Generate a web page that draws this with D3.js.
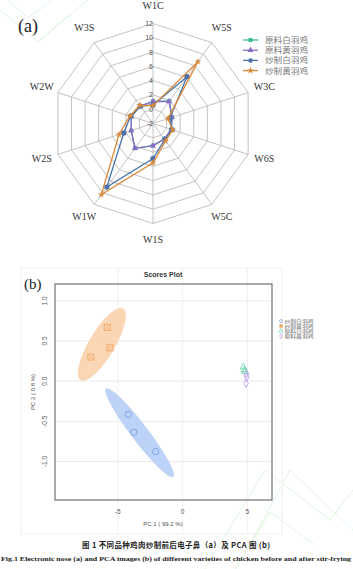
<!DOCTYPE html>
<html>
<head>
<meta charset="utf-8">
<script src="https://cdn.jsdelivr.net/npm/d3@7"></script>
<style>
  body { margin: 0; background: #fff; }
  svg { display: block; }
</style>
</head>
<body>
<svg id="chart" width="353" height="569"></svg>
<script>
// radar (a): electronic nose sensors
var sensors = ["W1C", "W5S", "W3C", "W6S", "W5C", "W1S", "W1W", "W2S", "W2W", "W3S"];
var radarTicks = [-2, 0, 2, 4, 6, 8, 10, 12];
var radarNames = ["原料白羽鸡", "原料黄羽鸡", "炒制白羽鸡", "炒制黄羽鸡"];
var rawWhite   = [1.1, 1.9, 0.8, 0.7, 0.7, 1.1, 2.3, 1.2, 1.2, 1.0];
var rawYellow  = [1.1, 1.8, 0.8, 0.7, 0.7, 1.1, 2.3, 1.2, 1.2, 1.0];
var friedWhite = [0.6, 6.1, 0.5, 0.8, 0.8, 2.9, 9.0, 2.3, 1.3, 1.0];
var friedYellow= [0.5, 8.7, 0.2, 0.9, 1.0, 3.5, 10.3, 3.0, 1.4, 1.15];

// PCA (b)
var pcaNames = ["炒制白羽鸡", "炒制黄羽鸡", "原料白羽鸡", "原料黄羽鸡"];
var pcaFriedWhite  = [[-4.2, -0.415], [-3.76, -0.636], [-2.08, -0.877]];
var pcaFriedYellow = [[-5.82, 0.67], [-5.61, 0.415], [-7.08, 0.30]];
var pcaRawWhite    = [[4.69, 0.175], [4.77, 0.14], [4.81, 0.12]];
var pcaRawYellow   = [[4.92, 0.09], [4.95, 0.05], [4.9, -0.03]];
// confidence ellipses: center, major semi-vector, minor semi-vector (data units)
var ellFriedWhite  = [-3.32, -0.642, 2.6, -0.551, 0.522, 0.064];
var ellFriedYellow = [-6.23, 0.459, 1.64, 0.447, 0.856, -0.082];
var pcaXTicks = [-5, 0, 5];
var pcaYTicks = [-1.0, -0.5, 0.0, 0.5, 1.0];

var svg = d3.select("#chart");

// faint watermark lines
var wm = svg.append("g").attr("fill", "none").attr("stroke", "#d6f4d6").attr("stroke-width", 0.8);
wm.append("path").attr("d", "M8,0 L28,18 L52,0 M0,10 L38,42 L88,0 M40,40 L70,14");
wm.append("path").attr("d", "M205,569 L265,470 L330,520 L353,490 M235,569 L270,512 L315,545 M250,545 L290,470 L353,530");

// ---------- panel (a) ----------
var cx = 153, cy = 123.5;
var r = d3.scaleLinear().domain([-2, 12]).range([0, 100]);
var ang = function(i) { return i * 2 * Math.PI / sensors.length; };
function pt(i, v) {
  return [cx + r(v) * Math.sin(ang(i)), cy - r(v) * Math.cos(ang(i))];
}

var grid = svg.append("g");
radarTicks.slice(1).forEach(function(t) {
  grid.append("path")
      .attr("d", d3.line()(sensors.map(function(s, i) { return pt(i, t); })) + "Z")
      .attr("fill", "none").attr("stroke", "#b4b4b4").attr("stroke-width", 0.8);
});
sensors.forEach(function(s, i) {
  var p = pt(i, 12);
  grid.append("line").attr("x1", cx).attr("y1", cy).attr("x2", p[0]).attr("y2", p[1])
      .attr("stroke", "#b4b4b4").attr("stroke-width", 0.8);
  var lr = 117;
  svg.append("text")
      .attr("x", cx + lr * Math.sin(ang(i)))
      .attr("y", cy - lr * Math.cos(ang(i)))
      .attr("text-anchor", "middle").attr("dominant-baseline", "middle")
      .attr("font-family", "Liberation Serif").attr("font-size", 10)
      .attr("fill", "#333").text(s);
});
radarTicks.forEach(function(t) {
  svg.append("text").attr("x", cx).attr("y", cy - r(t) + 2.5)
      .attr("text-anchor", "end")
      .attr("font-family", "Liberation Sans").attr("font-size", 7)
      .attr("fill", "#555").text(t);
});

var radarSeries = [rawWhite, rawYellow, friedWhite, friedYellow];
var radarColors = ["#3db98f", "#8a6cc8", "#4a72a8", "#d8893a"];
var shapes = [d3.symbolSquare, d3.symbolTriangle, d3.symbolCircle, d3.symbolStar];

radarSeries.forEach(function(vals, k) {
  var pts = vals.map(function(v, i) { return pt(i, v); });
  svg.append("path").attr("d", d3.line()(pts) + "Z")
      .attr("fill", "none").attr("stroke", radarColors[k]).attr("stroke-width", 1.3);
  svg.append("g").selectAll("path").data(pts).enter().append("path")
      .attr("d", d3.symbol().type(shapes[k]).size(k == 2 ? 22 : 16))
      .attr("transform", function(d) { return "translate(" + d[0] + "," + d[1] + ")"; })
      .attr("fill", radarColors[k]);
});

var leg = svg.append("g");
radarNames.forEach(function(n, k) {
  var y = 40 + k * 10.2;
  leg.append("line").attr("x1", 243).attr("x2", 258).attr("y1", y).attr("y2", y)
      .attr("stroke", radarColors[k]).attr("stroke-width", 1.3);
  leg.append("path").attr("d", d3.symbol().type(shapes[k]).size(16))
      .attr("transform", "translate(250.5," + y + ")").attr("fill", radarColors[k]);
  leg.append("text").attr("x", 265).attr("y", y + 3)
      .attr("textLength", 43).attr("lengthAdjust", "spacingAndGlyphs")
      .attr("font-family", "Noto Sans CJK SC").attr("font-size", 8)
      .attr("fill", "#777").text(n);
});

svg.append("text").attr("x", 18).attr("y", 32)
    .attr("font-family", "Liberation Serif").attr("font-size", 18)
    .attr("fill", "#222").text("(a)");

// ---------- panel (b) ----------
var x = d3.scaleLinear().domain([-9.85, 6.9]).range([55, 272]);
var y = d3.scaleLinear().domain([-1.48, 1.21]).range([500, 284]);

svg.append("rect").attr("x", 21).attr("y", 268).attr("width", 261).attr("height", 266)
    .attr("fill", "none").attr("stroke", "#efefef");

var g2 = svg.append("g");
pcaXTicks.forEach(function(t) {
  g2.append("line").attr("x1", x(t)).attr("x2", x(t)).attr("y1", 268).attr("y2", 534)
      .attr("stroke", "#ececec").attr("stroke-width", 0.8);
});
pcaYTicks.forEach(function(t) {
  g2.append("line").attr("x1", 55).attr("x2", 272).attr("y1", y(t)).attr("y2", y(t))
      .attr("stroke", "#e4e4e4").attr("stroke-width", 0.8);
});

function ellipse(e) {
  var pts = d3.range(0, 73).map(function(j) {
    var t = j / 72 * 2 * Math.PI;
    return [x(e[0] + Math.cos(t) * e[2] + Math.sin(t) * e[4]),
            y(e[1] + Math.cos(t) * e[3] + Math.sin(t) * e[5])];
  });
  return d3.line()(pts) + "Z";
}
g2.append("path").attr("d", ellipse(ellFriedYellow)).attr("fill", "#fbd2ad").attr("opacity", 0.9);
g2.append("path").attr("d", ellipse(ellFriedWhite)).attr("fill", "#b5cdf5").attr("opacity", 0.9);

var pcaColors = ["#6f9de6", "#f2a45a", "#5fd3a4", "#b58ee8"];

g2.selectAll(".fw").data(pcaFriedWhite).enter().append("circle")
    .attr("cx", function(d) { return x(d[0]); }).attr("cy", function(d) { return y(d[1]); })
    .attr("r", 3.2).attr("fill", "none").attr("stroke", pcaColors[0]).attr("stroke-width", 0.8);

g2.selectAll(".fy").data(pcaFriedYellow).enter().append("g")
    .attr("transform", function(d) { return "translate(" + x(d[0]) + "," + y(d[1]) + ")"; })
    .each(function() {
      var s = d3.select(this);
      s.append("rect").attr("x", -3).attr("y", -3).attr("width", 6).attr("height", 6)
          .attr("fill", "none").attr("stroke", pcaColors[1]).attr("stroke-width", 0.8);
      s.append("path").attr("d", "M-3,-3L3,3M-3,3L3,-3")
          .attr("stroke", pcaColors[1]).attr("stroke-width", 0.6);
    });

g2.selectAll(".rw").data(pcaRawWhite).enter().append("path")
    .attr("d", d3.symbol().type(d3.symbolTriangle).size(18))
    .attr("transform", function(d) { return "translate(" + x(d[0]) + "," + y(d[1]) + ")"; })
    .attr("fill", "none").attr("stroke", pcaColors[2]).attr("stroke-width", 0.8);

g2.selectAll(".ry").data(pcaRawYellow).enter().append("path")
    .attr("d", d3.symbol().type(d3.symbolDiamond).size(18))
    .attr("transform", function(d) { return "translate(" + x(d[0]) + "," + y(d[1]) + ")"; })
    .attr("fill", "none").attr("stroke", pcaColors[3]).attr("stroke-width", 0.8);

g2.append("rect").attr("x", 55).attr("y", 284).attr("width", 217).attr("height", 216)
    .attr("fill", "none").attr("stroke", "#555").attr("stroke-width", 1);

pcaXTicks.forEach(function(t) {
  g2.append("text").attr("x", x(t)).attr("y", 514).attr("text-anchor", "middle")
      .attr("font-family", "Liberation Sans").attr("font-size", 6.5)
      .attr("fill", "#555").text(t);
});
pcaYTicks.forEach(function(t) {
  g2.append("text").attr("transform", "translate(47," + y(t) + ") rotate(-90)")
      .attr("text-anchor", "middle")
      .attr("font-family", "Liberation Sans").attr("font-size", 6.5)
      .attr("fill", "#555").text(t.toFixed(1));
});
g2.append("text").attr("x", 163).attr("y", 526).attr("text-anchor", "middle")
    .attr("font-family", "Liberation Sans").attr("font-size", 6)
    .attr("fill", "#555").text("PC 1 ( 99.2 %)");
g2.append("text").attr("transform", "translate(35,392) rotate(-90)").attr("text-anchor", "middle")
    .attr("font-family", "Liberation Sans").attr("font-size", 6)
    .attr("fill", "#555").text("PC 2 ( 0.8 %)");
g2.append("text").attr("x", 163).attr("y", 277).attr("text-anchor", "middle")
    .attr("font-family", "Liberation Sans").attr("font-size", 7).attr("font-weight", "bold")
    .attr("fill", "#333").text("Scores Plot");

svg.append("text").attr("x", 24).attr("y", 289)
    .attr("font-family", "Liberation Serif").attr("font-size", 15)
    .attr("fill", "#222").text("(b)");

var leg2 = svg.append("g");
var legShapes = [d3.symbolCircle, d3.symbolSquare, d3.symbolTriangle, d3.symbolDiamond];
pcaNames.forEach(function(n, k) {
  var yy = 321 + k * 5;
  leg2.append("path").attr("d", d3.symbol().type(legShapes[k]).size(7))
      .attr("transform", "translate(281," + yy + ")")
      .attr("fill", k == 1 ? pcaColors[1] : "none").attr("stroke", pcaColors[k]).attr("stroke-width", 0.6);
  leg2.append("text").attr("x", 284.5).attr("y", yy + 1.7)
      .attr("textLength", 29).attr("lengthAdjust", "spacingAndGlyphs")
      .attr("font-family", "Noto Sans CJK SC").attr("font-size", 4.6)
      .attr("fill", "#666").text(n);
});

// captions
svg.append("text").attr("x", 176).attr("y", 548).attr("text-anchor", "middle")
    .attr("textLength", 188).attr("lengthAdjust", "spacing")
    .attr("font-family", "Noto Sans CJK SC").attr("font-size", 7.5).attr("font-weight", "bold")
    .attr("fill", "#222").text("图 1    不同品种鸡肉炒制前后电子鼻（a）及 PCA 图 (b)");
svg.append("text").attr("x", 1).attr("y", 560.5)
    .attr("textLength", 350).attr("lengthAdjust", "spacingAndGlyphs")
    .attr("font-family", "Liberation Serif").attr("font-size", 7).attr("font-weight", "bold")
    .attr("fill", "#222")
    .text("Fig.1    Electronic nose (a) and PCA images (b) of different varieties of chicken before and after stir-frying");
</script>
</body>
</html>
